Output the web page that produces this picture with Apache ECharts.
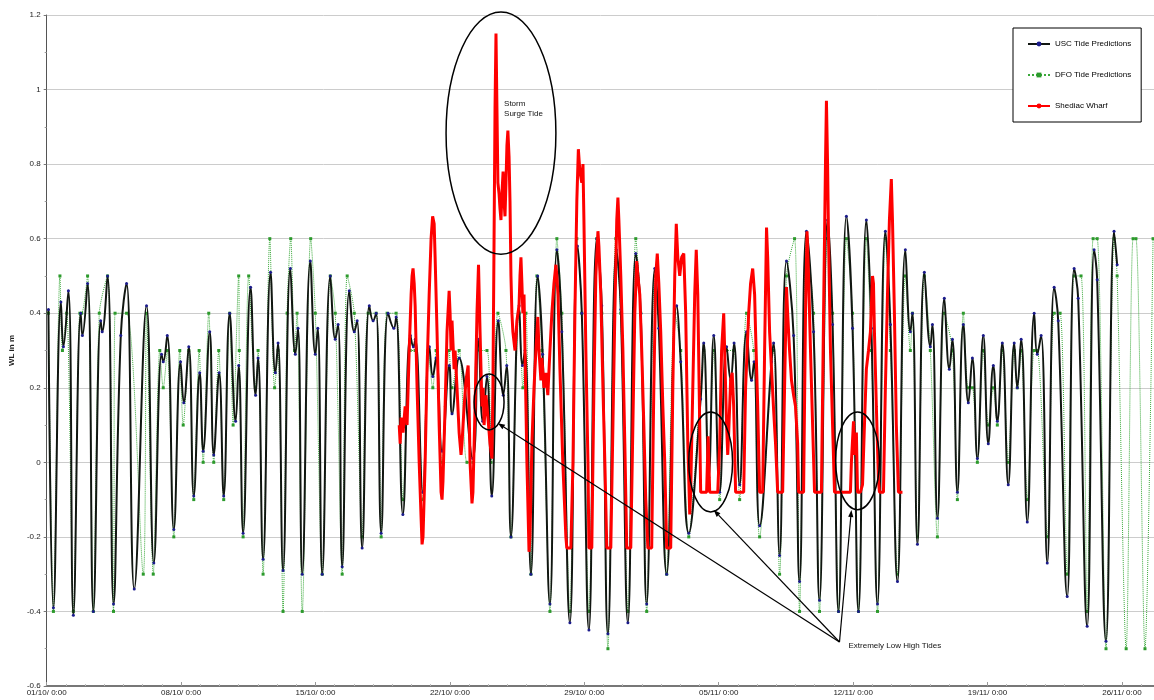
<!DOCTYPE html>
<html>
<head>
<meta charset="utf-8">
<script src="https://cdn.jsdelivr.net/npm/echarts@6/dist/echarts.min.js"></script>
<style>html,body{margin:0;padding:0;background:#fff}#c{width:1154px;height:700px}</style>
</head>
<body>
<div id="c"></div>
<script>
// Time axis: days since 01/10 0:00
const tickLabels = ['01/10/ 0:00','08/10/ 0:00','15/10/ 0:00','22/10/ 0:00','29/10/ 0:00','05/11/ 0:00','12/11/ 0:00','19/11/ 0:00','26/11/ 0:00'];

// USC Tide Predictions (high/low waters)
const uscDay = [0.09,0.35,0.74,0.87,1.13,1.39,1.77,1.86,2.13,2.43,2.81,2.89,3.17,3.48,3.86,4.16,4.56,5.20,5.58,5.98,6.07,6.28,6.62,6.97,7.14,7.40,7.66,7.97,8.15,8.49,8.70,8.98,9.22,9.53,9.84,10.00,10.23,10.62,10.88,11.01,11.27,11.66,11.91,12.05,12.31,12.69,12.95,13.09,13.31,13.73,13.99,14.12,14.35,14.77,15.03,15.18,15.39,15.76,16.02,16.17,16.43,16.80,17.00,17.16,17.42,17.78,18.08,18.20,18.55,18.94,19.10,19.20,19.59,19.93,20.11,20.28,20.59,20.97,21.11,21.48,22.19,22.48,22.71,22.93,23.18,23.52,23.78,23.96,24.18,24.60,24.78,24.91,25.22,25.57,25.83,26.21,26.57,26.83,27.25,27.64,27.87,28.24,28.65,28.91,29.23,29.67,29.90,30.27,30.68,30.94,31.25,31.67,31.88,32.29,32.81,33.02,33.44,34.06,34.22,34.48,34.74,35.05,35.41,35.62,35.80,36.09,36.45,36.71,36.84,37.13,37.75,37.86,38.17,38.53,38.90,39.21,39.57,39.94,40.25,40.67,40.93,41.24,41.65,41.97,42.28,42.69,42.95,43.27,43.68,43.94,44.31,44.72,44.98,45.09,45.35,45.71,46.02,46.13,46.39,46.75,47.01,47.17,47.43,47.74,48.00,48.21,48.47,48.78,49.04,49.30,49.51,49.77,50.08,50.39,50.55,50.75,51.07,51.43,51.59,51.79,52.11,52.47,52.68,53.15,53.51,53.72,54.19,54.55,54.71,55.17,55.59,55.75];
const uscWL = [0.41,-0.39,0.43,0.31,0.46,-0.41,0.40,0.34,0.48,-0.40,0.38,0.35,0.50,-0.38,0.34,0.48,-0.34,0.42,-0.27,0.29,0.27,0.34,-0.18,0.27,0.16,0.31,-0.09,0.24,0.03,0.35,0.02,0.24,-0.09,0.40,0.11,0.26,-0.19,0.47,0.18,0.28,-0.26,0.51,0.24,0.32,-0.29,0.52,0.29,0.36,-0.30,0.54,0.29,0.36,-0.30,0.50,0.33,0.37,-0.28,0.46,0.35,0.38,-0.23,0.42,0.38,0.40,-0.19,0.40,0.36,0.39,-0.14,0.34,0.31,0.33,-0.08,0.31,0.23,0.28,0.03,0.26,0.13,0.28,0.01,0.33,0.11,0.23,-0.09,0.38,0.18,0.26,-0.20,0.42,0.26,0.30,-0.30,0.50,0.29,-0.38,0.57,0.35,-0.43,0.58,0.40,-0.45,0.60,0.42,-0.46,0.57,0.41,-0.43,0.56,0.40,-0.38,0.52,0.36,-0.30,0.42,0.27,-0.19,0.17,0.32,-0.04,0.34,-0.08,0.31,0.22,0.32,-0.06,0.35,0.22,0.27,-0.17,0.27,0.32,-0.25,0.54,0.34,-0.32,0.62,0.35,-0.37,0.65,0.37,-0.40,0.66,0.36,-0.40,0.65,0.36,-0.38,0.62,0.37,-0.32,0.57,0.35,0.40,-0.22,0.51,0.31,0.37,-0.15,0.44,0.25,0.33,-0.08,0.37,0.16,0.28,0.01,0.34,0.05,0.26,0.11,0.32,-0.06,0.32,0.20,0.33,-0.16,0.40,0.29,0.34,-0.27,0.47,0.38,-0.36,0.52,0.44,-0.44,0.57,0.49,-0.48,0.62,0.53];

// DFO Tide Predictions (high/low waters, 0.1 m resolution)
const dfoDay = [0.09,0.35,0.69,0.82,1.04,1.39,1.73,1.82,2.13,2.43,2.74,3.17,3.48,3.56,4.16,5.03,5.20,5.55,5.89,6.07,6.28,6.62,6.93,7.11,7.40,7.66,7.94,8.15,8.44,8.70,8.96,9.22,9.53,9.71,10.00,10.03,10.23,10.52,10.87,11.01,11.27,11.62,11.87,12.05,12.31,12.52,12.71,12.91,13.04,13.31,13.75,13.99,14.35,14.77,15.03,15.39,15.65,16.02,16.43,16.74,17.16,17.42,17.73,18.20,18.55,18.93,19.19,19.59,19.86,20.11,20.28,20.59,20.96,21.11,21.48,21.89,22.20,22.41,22.93,23.14,23.50,23.92,24.18,24.60,24.80,24.96,25.22,25.53,25.79,26.21,26.57,26.83,27.25,27.61,27.87,28.24,28.65,28.91,29.23,29.64,29.90,30.27,30.68,30.94,31.25,31.67,31.88,32.29,32.71,33.02,33.44,34.06,34.22,34.48,34.74,35.05,35.41,35.78,36.09,36.45,36.82,37.13,37.86,38.17,38.53,38.95,39.21,39.57,39.94,40.25,40.67,40.93,41.24,41.65,41.97,42.28,42.69,42.95,43.27,43.68,43.94,44.31,44.72,44.98,45.09,45.35,45.71,46.02,46.39,46.75,47.17,47.43,47.74,48.00,48.21,48.47,48.78,49.04,49.30,49.51,49.77,50.08,50.39,50.55,50.75,51.07,51.43,51.59,52.11,52.47,52.78,53.15,53.51,53.87,54.19,54.50,54.71,55.17,55.59,55.75,56.22,56.58,56.73,57.20,57.62];
const dfoWL = [0.4,-0.4,0.5,0.3,0.4,-0.4,0.4,0.4,0.5,-0.4,0.4,0.5,-0.4,0.4,0.4,-0.3,0.4,-0.3,0.3,0.2,0.3,-0.2,0.3,0.1,0.3,-0.1,0.3,0.0,0.4,0.0,0.3,-0.1,0.4,0.1,0.5,0.3,-0.2,0.5,0.2,0.3,-0.3,0.6,0.2,0.3,-0.4,0.4,0.6,0.3,0.4,-0.4,0.6,0.4,-0.3,0.5,0.4,-0.3,0.5,0.4,-0.2,0.4,0.4,-0.2,0.4,0.4,-0.1,0.3,0.3,-0.1,0.3,0.2,0.3,0.0,0.3,0.2,0.3,0.0,0.0,0.3,0.3,0.0,0.4,0.3,-0.2,0.4,0.2,0.4,-0.3,0.5,0.3,-0.4,0.6,0.4,-0.4,0.6,0.4,-0.4,0.6,0.4,-0.5,0.6,0.4,-0.4,0.6,0.4,-0.4,0.5,0.4,-0.3,0.4,0.3,-0.2,0.2,0.3,0.0,0.3,-0.1,0.3,0.3,-0.1,0.4,0.3,-0.2,0.3,-0.3,0.5,0.6,-0.4,0.6,0.4,-0.4,0.6,0.4,-0.4,0.6,0.4,-0.4,0.6,0.3,-0.4,0.6,0.3,-0.3,0.5,0.3,0.4,-0.2,0.5,0.3,-0.2,0.4,0.3,-0.1,0.4,0.2,0.2,0.0,0.3,0.1,0.2,0.1,0.3,0.0,0.3,0.2,0.3,-0.1,0.3,0.3,-0.2,0.4,0.4,-0.3,0.5,0.5,-0.4,0.6,0.6,-0.5,0.6,0.5,-0.5,0.6,0.6,-0.5,0.6];

// Shediac Wharf observed water level
const obsDay = [18.36,18.41,18.46,18.56,18.67,18.77,18.88,18.98,19.03,19.08,19.14,19.19,19.29,19.40,19.50,19.55,19.60,19.71,19.81,19.92,20.02,20.10,20.18,20.23,20.33,20.44,20.54,20.59,20.64,20.75,20.85,20.96,21.01,21.06,21.11,21.16,21.22,21.27,21.37,21.48,21.58,21.63,21.74,21.84,21.95,22.00,22.05,22.15,22.20,22.31,22.41,22.49,22.57,22.67,22.73,22.78,22.88,22.98,23.09,23.19,23.24,23.30,23.35,23.40,23.45,23.50,23.56,23.61,23.66,23.71,23.77,23.82,23.87,23.92,23.97,24.02,24.08,24.13,24.18,24.23,24.28,24.39,24.49,24.60,24.65,24.70,24.75,24.80,24.86,24.91,25.01,25.12,25.17,25.27,25.38,25.48,25.58,25.64,25.74,25.79,25.90,26.00,26.10,26.21,26.31,26.42,26.52,26.57,26.63,26.73,26.88,27.04,27.09,27.30,27.41,27.51,27.61,27.69,27.77,27.87,27.93,27.98,28.08,28.19,28.24,28.39,28.50,28.60,28.71,28.76,28.86,28.97,29.07,29.17,29.38,29.49,29.59,29.69,29.75,29.80,29.90,30.01,30.11,30.21,30.42,30.53,30.63,30.73,30.79,30.89,30.99,31.10,31.20,31.31,31.51,31.62,31.72,31.80,31.88,31.98,32.09,32.19,32.29,32.50,32.61,32.71,32.79,32.87,32.97,33.07,33.18,33.28,33.39,33.49,33.54,33.65,33.75,33.83,33.91,34.01,34.06,34.37,34.45,34.53,34.95,35.05,35.15,35.26,35.31,35.36,35.41,35.47,35.52,35.62,35.70,35.78,35.88,36.30,36.40,36.56,36.66,36.77,36.87,36.92,37.03,37.13,37.29,37.39,37.49,37.55,37.65,37.75,37.86,37.96,38.07,38.33,38.43,38.53,38.59,38.69,38.79,38.90,39.00,39.11,39.16,39.42,39.52,39.60,39.68,39.78,39.89,39.99,40.35,40.46,40.56,40.61,40.67,40.72,40.82,40.93,41.03,41.86,41.91,42.02,42.07,42.17,42.23,42.38,42.49,42.59,42.69,42.80,42.90,43.01,43.06,43.11,43.21,43.32,43.37,43.58,43.68,43.79,43.89,43.99,44.05,44.15,44.25,44.36,44.57];
const obsWL = [0.10,0.05,0.12,0.08,0.15,0.10,0.30,0.45,0.50,0.52,0.48,0.42,0.20,0.00,-0.15,-0.22,-0.20,0.00,0.25,0.45,0.60,0.66,0.64,0.55,0.35,0.10,-0.08,-0.10,-0.05,0.15,0.35,0.46,0.40,0.30,0.38,0.32,0.25,0.30,0.20,0.08,0.02,0.05,0.15,0.22,0.26,0.15,0.00,-0.11,-0.08,0.15,0.40,0.53,0.35,0.15,0.20,0.10,0.18,0.12,0.05,0.01,0.20,0.60,0.95,1.15,0.95,0.75,0.72,0.68,0.65,0.72,0.78,0.70,0.66,0.75,0.85,0.89,0.82,0.70,0.50,0.40,0.35,0.30,0.38,0.42,0.50,0.55,0.48,0.40,0.45,0.30,0.00,-0.24,-0.20,0.05,0.20,0.30,0.39,0.30,0.22,0.28,0.20,0.24,0.18,0.30,0.40,0.48,0.53,0.50,0.45,0.25,0.00,-0.20,-0.23,-0.23,0.00,0.40,0.70,0.84,0.78,0.75,0.80,0.65,0.30,0.00,-0.23,-0.23,0.20,0.50,0.62,0.58,0.45,0.20,0.00,-0.23,-0.23,0.10,0.40,0.65,0.71,0.65,0.50,0.30,0.05,-0.23,-0.23,0.10,0.40,0.54,0.50,0.45,0.30,0.10,-0.10,-0.23,-0.23,0.20,0.50,0.56,0.48,0.35,0.15,0.00,-0.23,-0.23,0.20,0.50,0.64,0.55,0.50,0.55,0.56,0.40,0.05,-0.14,-0.08,0.20,0.45,0.57,0.45,0.10,-0.08,-0.08,0.07,-0.08,-0.08,0.05,0.30,0.40,0.30,0.20,0.10,0.02,0.08,0.22,0.24,0.15,-0.08,-0.08,0.20,0.40,0.48,0.52,0.45,0.35,0.15,-0.08,-0.08,0.30,0.63,0.55,0.35,0.25,0.14,0.05,-0.08,-0.08,0.20,0.47,0.40,0.30,0.22,0.18,0.15,0.05,-0.08,-0.08,0.40,0.62,0.50,0.30,0.10,-0.08,-0.08,0.40,0.80,0.97,0.80,0.60,0.30,0.10,-0.08,-0.08,0.00,0.11,0.02,0.08,-0.08,-0.08,-0.06,0.10,0.25,0.30,0.35,0.50,0.48,0.35,0.15,-0.05,-0.08,-0.08,0.20,0.45,0.65,0.76,0.65,0.40,0.10,-0.08,-0.08];

const zip = (a, b) => a.map((d, i) => [d, b[i]]);

const chart = echarts.init(document.getElementById('c'));
const FONT = '"Liberation Sans", Arial, sans-serif';

chart.setOption({
  animation: false,
  backgroundColor: '#ffffff',
  textStyle: { fontFamily: FONT },
  grid: { left: 45, top: 15, right: 0, bottom: 14 },
  legend: {
    left: 1013, top: 28, orient: 'vertical',
    data: ['USC Tide Predictions', 'DFO Tide Predictions', 'Shediac Wharf'],
    backgroundColor: '#fff', borderColor: '#000', borderWidth: 1,
    padding: [12, 10, 12, 14], itemGap: 23, itemWidth: 22, itemHeight: 6,
    textStyle: { fontSize: 8, color: '#000', fontFamily: FONT }
  },
  xAxis: {
    type: 'value', min: 0, max: 57.67, interval: 7,
    axisLine: { onZero: false, lineStyle: { color: '#777', width: 2 } },
    axisTick: { show: true, inside: true, length: 4, lineStyle: { color: '#999' } },
    minorTick: { show: true, splitNumber: 7, length: 2, lineStyle: { color: '#bbb' } },
    splitLine: { show: false },
    axisLabel: {
      fontSize: 8, color: '#222', margin: 3, showMaxLabel: false,
      formatter: v => { const i = Math.round(v / 7); return (Math.abs(v - i * 7) < 1e-6 && i < tickLabels.length) ? tickLabels[i] : ''; }
    }
  },
  yAxis: {
    type: 'value', min: -0.6, max: 1.2, interval: 0.2,
    name: 'WL in m', nameLocation: 'middle', nameGap: 30,
    nameTextStyle: { fontSize: 8, fontWeight: 'bold', color: '#222' },
    axisLine: { show: true, onZero: false, lineStyle: { color: '#555', width: 1 } },
    axisTick: { show: true, length: 3, lineStyle: { color: '#777' } },
    minorTick: { show: true, splitNumber: 2, length: 2, lineStyle: { color: '#999' } },
    splitLine: { lineStyle: { color: '#cccccc', width: 1 } },
    axisLabel: { fontSize: 8, color: '#222', margin: 6, formatter: v => String(Number(v.toFixed(1))) }
  },
  series: [
    {
      name: 'DFO Tide Predictions', type: 'line', data: zip(dfoDay, dfoWL), z: 2,
      smooth: 0.3, symbol: 'rect', symbolSize: 3, showSymbol: true,
      itemStyle: { color: '#2c9a2c' },
      lineStyle: { color: '#3aa83a', width: 1, type: 'dotted' }
    },
    {
      name: 'USC Tide Predictions', type: 'line', data: zip(uscDay, uscWL), z: 3,
      smooth: 0.45, symbol: 'circle', symbolSize: 3, showSymbol: true,
      itemStyle: { color: '#1b1b8c' },
      lineStyle: { color: '#111611', width: 2 }
    },
    {
      name: 'Shediac Wharf', type: 'line', data: zip(obsDay, obsWL), z: 4,
      symbol: 'none', showSymbol: false,
      itemStyle: { color: '#ff0000' },
      lineStyle: { color: '#ff0000', width: 3 }
    }
  ]
});

// Annotations anchored in data coordinates
const ellipses = [
  { c: [23.66, 0.883], rx: 2.86, ry: 0.325 },
  { c: [23.04, 0.162], rx: 0.78, ry: 0.075 },
  { c: [34.58, 0.001], rx: 1.14, ry: 0.134 },
  { c: [42.23, 0.004], rx: 1.14, ry: 0.131 }
];
const arrowFrom = [41.29, -0.482];
const arrowTo = [[23.50, 0.105], [34.74, -0.128], [41.91, -0.128]];
const notes = [
  { at: [23.82, 0.975], text: 'Storm\nSurge Tide' },
  { at: [41.76, -0.493], text: 'Extremely Low High Tides' }
];

const px = p => chart.convertToPixel({ gridIndex: 0 }, p);
const g = [];
ellipses.forEach(e => {
  const c = px(e.c), r = px([e.c[0] + e.rx, e.c[1] - e.ry]);
  g.push({ type: 'ellipse', shape: { cx: c[0], cy: c[1], rx: r[0] - c[0], ry: r[1] - c[1] },
    style: { fill: null, stroke: '#000', lineWidth: 1.5 }, z: 100 });
});
const o = px(arrowFrom);
arrowTo.forEach(t => {
  const e = px(t);
  const dx = e[0] - o[0], dy = e[1] - o[1], L = Math.hypot(dx, dy), ux = dx / L, uy = dy / L;
  const hl = 7, hw = 2.6;
  const bx = e[0] - ux * hl, by = e[1] - uy * hl;
  g.push({ type: 'line', shape: { x1: o[0], y1: o[1], x2: bx, y2: by }, style: { stroke: '#000', lineWidth: 1.2 }, z: 100 });
  g.push({ type: 'polygon', shape: { points: [[e[0], e[1]], [bx - uy * hw, by + ux * hw], [bx + uy * hw, by - ux * hw]] },
    style: { fill: '#000' }, z: 100 });
});
notes.forEach((n, i) => {
  const p = px(n.at);
  g.push({ type: 'text', x: p[0], y: p[1], z: 100,
    style: { text: n.text, font: '8px ' + FONT, fill: '#111', lineHeight: 10,
      verticalAlign: i === 0 ? 'top' : 'middle', align: 'left' } });
});
chart.setOption({ graphic: g });
</script>
</body>
</html>
